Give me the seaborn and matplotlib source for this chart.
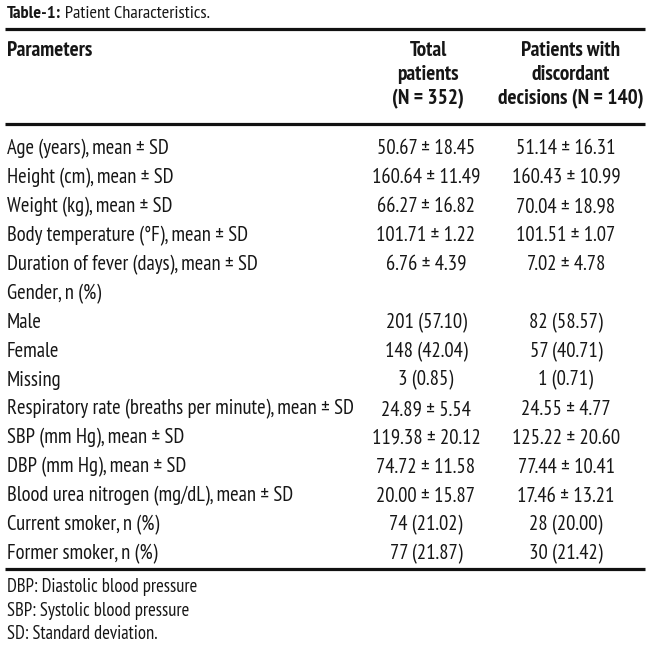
import matplotlib
matplotlib.use("Agg")
import matplotlib.pyplot as plt
from matplotlib import font_manager
import seaborn as sns

# ---------------- data ----------------
title_bold = "Table-1:"
title_rest = " Patient Characteristics."
header_param = "Parameters"
header_col1 = ["Total", "patients", "(N = 352)"]
header_col2 = ["Patients with", "discordant", "decisions (N = 140)"]

parameters = [
    "Age (years), mean ± SD",
    "Height (cm), mean ± SD",
    "Weight (kg), mean ± SD",
    "Body temperature (°F), mean ± SD",
    "Duration of fever (days), mean ± SD",
    "Gender, n (%)",
    "Male",
    "Female",
    "Missing",
    "Respiratory rate (breaths per minute), mean ± SD",
    "SBP (mm Hg), mean ± SD",
    "DBP (mm Hg), mean ± SD",
    "Blood urea nitrogen (mg/dL), mean ± SD",
    "Current smoker, n (%)",
    "Former smoker, n (%)",
]
total_patients = [
    "50.67 ± 18.45", "160.64 ± 11.49", "66.27 ± 16.82", "101.71 ± 1.22",
    "6.76 ± 4.39", "", "201 (57.10)", "148 (42.04)", "3 (0.85)",
    "24.89 ± 5.54", "119.38 ± 20.12", "74.72 ± 11.58", "20.00 ± 15.87",
    "74 (21.02)", "77 (21.87)",
]
discordant_patients = [
    "51.14 ± 16.31", "160.43 ± 10.99", "70.04 ± 18.98", "101.51 ± 1.07",
    "7.02 ± 4.78", "", "82 (58.57)", "57 (40.71)", "1 (0.71)",
    "24.55 ± 4.77", "125.22 ± 20.60", "77.44 ± 10.41", "17.46 ± 13.21",
    "28 (20.00)", "30 (21.42)",
]
footnotes = [
    "DBP: Diastolic blood pressure",
    "SBP: Systolic blood pressure",
    "SD: Standard deviation.",
]

# ---------------- style ----------------
sns.set_theme(style="white")
available = {f.name for f in font_manager.fontManager.ttflist}
preferred = ["PT Sans Narrow", "Roboto Condensed", "Fira Sans Condensed",
             "Archivo Narrow", "Open Sans Condensed", "Liberation Sans Narrow",
             "Encode Sans Condensed", "Asap Condensed"]
chosen = next((f for f in preferred if f in available), None)
if chosen:
    plt.rcParams["font.family"] = [chosen, "DejaVu Sans"]
    stretch = "normal"
else:
    plt.rcParams["font.family"] = ["DejaVu Sans"]
    stretch = "condensed"

W, H = 650, 652
fig = plt.figure(figsize=(W / 100, H / 100), dpi=100)
ax = fig.add_axes([0, 0, 1, 1])
ax.set_xlim(0, W)
ax.set_ylim(H, 0)
ax.axis("off")
renderer = fig.canvas.get_renderer()


def fit_size(text, target_px, weight="normal", base=12.0):
    t = fig.text(0, 0, text, fontsize=base, fontweight=weight, fontstretch=stretch)
    w = t.get_window_extent(renderer=renderer).width
    t.remove()
    return base * target_px / w


fs = fit_size("Respiratory rate (breaths per minute), mean ± SD", 345)
fs_head = fit_size("decisions (N = 140)", 146, weight="bold")
fs_title = fit_size("Table-1: Patient Characteristics.", 201)
fs_foot = fit_size("DBP: Diastolic blood pressure", 190)

col0_x = 7
col1_x = 426
col2_x = 566
hcol1_x = 428
hcol2_x = 571
color = "#161616"
kw = dict(fontstretch=stretch, color=color, va="center")

# title
t1 = ax.text(col0_x, 14, title_bold, fontsize=fs_title, fontweight="bold",
             ha="left", **kw)
ax.annotate(title_rest, xy=(1, 0.5), xycoords=t1, ha="left",
            fontsize=fs_title, **kw)

# rules
ax.hlines([29, 124, 569], 5, 645, colors="#111111", linewidth=2.3)

# header
hy = [51, 75, 99]
ax.text(col0_x, hy[0], header_param, fontsize=fs_head, fontweight="bold",
        ha="left", **kw)
for y, a, b in zip(hy, header_col1, header_col2):
    ax.text(hcol1_x, y, a, fontsize=fs_head, fontweight="bold", ha="center", **kw)
    ax.text(hcol2_x, y, b, fontsize=fs_head, fontweight="bold", ha="center", **kw)

# body
y0, dy = 149, 28.93
for i, (p, a, b) in enumerate(zip(parameters, total_patients, discordant_patients)):
    y = y0 + i * dy
    ax.text(col0_x, y, p, fontsize=fs, ha="left", **kw)
    ax.text(col1_x, y, a, fontsize=fs, ha="center", **kw)
    ax.text(col2_x, y, b, fontsize=fs, ha="center", **kw)

# footnotes
for i, f in enumerate(footnotes):
    ax.text(col0_x, 587 + i * 23.5, f, fontsize=fs_foot, ha="left", **kw)

fig.savefig("out.png", dpi=100, facecolor="white")
